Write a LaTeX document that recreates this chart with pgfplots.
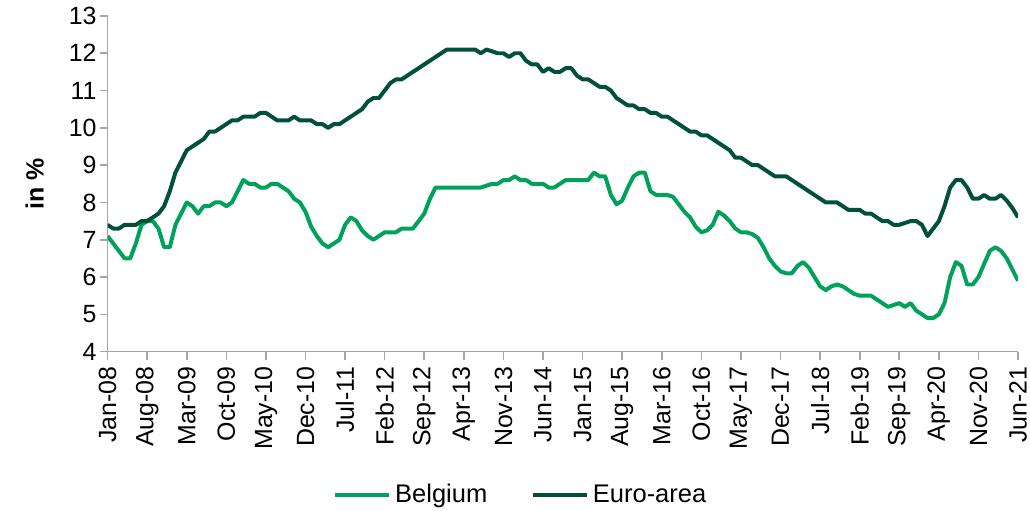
\documentclass[border=0pt]{standalone}
\usepackage{fontspec}
\setmainfont{Liberation Sans}
\usepackage{pgfplots}
\usepackage{pgfplotstable}
\pgfplotsset{compat=1.18}

\definecolor{belgium}{RGB}{0,161,90}
\definecolor{euroarea}{RGB}{0,80,60}
\definecolor{axisgray}{RGB}{166,166,166}

% month index (0 = Jan-08), Belgium, Euro-area, in %
\pgfplotstableread{
m be ea
0 7.1 7.4
1 6.9 7.3
2 6.7 7.3
3 6.5 7.4
4 6.5 7.4
5 6.9 7.4
6 7.4 7.5
7 7.5 7.5
8 7.5 7.6
9 7.3 7.7
10 6.8 7.9
11 6.8 8.3
12 7.4 8.8
13 7.7 9.1
14 8.0 9.4
15 7.9 9.5
16 7.7 9.6
17 7.9 9.7
18 7.9 9.9
19 8.0 9.9
20 8.0 10.0
21 7.9 10.1
22 8.0 10.2
23 8.3 10.2
24 8.6 10.3
25 8.5 10.3
26 8.5 10.3
27 8.4 10.4
28 8.4 10.4
29 8.5 10.3
30 8.5 10.2
31 8.4 10.2
32 8.3 10.2
33 8.1 10.3
34 8.0 10.2
35 7.75 10.2
36 7.35 10.2
37 7.1 10.1
38 6.9 10.1
39 6.8 10.0
40 6.9 10.1
41 7.0 10.1
42 7.4 10.2
43 7.6 10.3
44 7.5 10.4
45 7.25 10.5
46 7.1 10.7
47 7.0 10.8
48 7.1 10.8
49 7.2 11.0
50 7.2 11.2
51 7.2 11.3
52 7.3 11.3
53 7.3 11.4
54 7.3 11.5
55 7.5 11.6
56 7.7 11.7
57 8.1 11.8
58 8.4 11.9
59 8.4 12.0
60 8.4 12.1
61 8.4 12.1
62 8.4 12.1
63 8.4 12.1
64 8.4 12.1
65 8.4 12.1
66 8.4 12.0
67 8.45 12.1
68 8.5 12.05
69 8.5 12.0
70 8.6 12.0
71 8.6 11.9
72 8.7 12.0
73 8.6 12.0
74 8.6 11.8
75 8.5 11.7
76 8.5 11.7
77 8.5 11.5
78 8.4 11.6
79 8.4 11.5
80 8.5 11.5
81 8.6 11.6
82 8.6 11.6
83 8.6 11.4
84 8.6 11.3
85 8.6 11.3
86 8.8 11.2
87 8.7 11.1
88 8.7 11.1
89 8.2 11.0
90 7.95 10.8
91 8.05 10.7
92 8.4 10.6
93 8.7 10.6
94 8.8 10.5
95 8.8 10.5
96 8.3 10.4
97 8.2 10.4
98 8.2 10.3
99 8.2 10.3
100 8.15 10.2
101 7.95 10.1
102 7.75 10.0
103 7.6 9.9
104 7.35 9.9
105 7.2 9.8
106 7.25 9.8
107 7.4 9.7
108 7.75 9.6
109 7.65 9.5
110 7.5 9.4
111 7.3 9.2
112 7.2 9.2
113 7.2 9.1
114 7.15 9.0
115 7.05 9.0
116 6.8 8.9
117 6.5 8.8
118 6.3 8.7
119 6.15 8.7
120 6.1 8.7
121 6.1 8.6
122 6.3 8.5
123 6.4 8.4
124 6.25 8.3
125 6.0 8.2
126 5.75 8.1
127 5.65 8.0
128 5.75 8.0
129 5.8 8.0
130 5.75 7.9
131 5.65 7.8
132 5.55 7.8
133 5.5 7.8
134 5.5 7.7
135 5.5 7.7
136 5.4 7.6
137 5.3 7.5
138 5.2 7.5
139 5.25 7.4
140 5.3 7.4
141 5.2 7.45
142 5.3 7.5
143 5.1 7.5
144 5.0 7.4
145 4.9 7.1
146 4.9 7.3
147 5.0 7.5
148 5.3 7.9
149 6.0 8.4
150 6.4 8.6
151 6.3 8.6
152 5.8 8.4
153 5.8 8.1
154 6.0 8.1
155 6.35 8.2
156 6.7 8.1
157 6.8 8.1
158 6.7 8.2
159 6.5 8.05
160 6.2 7.85
161 5.9 7.6
}\rates

\begin{document}
\begin{tikzpicture}
\useasboundingbox (-54pt,-79.5pt) rectangle (463pt,176.5pt);
\begin{axis}[
    scale only axis,
    width=457pt, height=168.5pt,
    xmin=0, xmax=161,
    ymin=4, ymax=13,
    axis lines*=left,
    axis line style={axisgray, line width=0.8pt},
    tick style={axisgray, line width=0.8pt},
    major tick length=4pt,
    tick align=outside,
    xtick={0,7,...,161},
    xticklabels={Jan-08,Aug-08,Mar-09,Oct-09,May-10,Dec-10,Jul-11,Feb-12,
        Sep-12,Apr-13,Nov-13,Jun-14,Jan-15,Aug-15,Mar-16,Oct-16,May-17,
        Dec-17,Jul-18,Feb-19,Sep-19,Apr-20,Nov-20,Jun-21},
    ytick={4,5,...,13},
    x tick label style={rotate=90, anchor=east, font=\fontsize{12.5}{14}\selectfont},
    y tick label style={font=\fontsize{12.5}{14}\selectfont, xshift=2pt},
    /pgf/number format/assume math mode=true,
    ylabel={\textbf{in \%}},
    ylabel style={font=\fontsize{12.5}{14}\selectfont, at={(axis description cs:-0.08,0.5)}, anchor=center},
    legend columns=2,
    legend style={draw=none, fill=none, at={(axis description cs:0.455,-0.427)}, anchor=center,
        font=\fontsize{12.8}{14}\selectfont,
        /tikz/every even column/.append style={column sep=20pt}},
    legend image code/.code={\draw[#1] (0pt,0pt) -- (27pt,0pt);},
    every axis plot/.append style={line width=2pt, line join=round, no marks},
]
\addplot[belgium] table[x=m, y=be] {\rates};
\addlegendentry{Belgium}
\addplot[euroarea] table[x=m, y=ea] {\rates};
\addlegendentry{Euro-area}
\end{axis}
\end{tikzpicture}
\end{document}
